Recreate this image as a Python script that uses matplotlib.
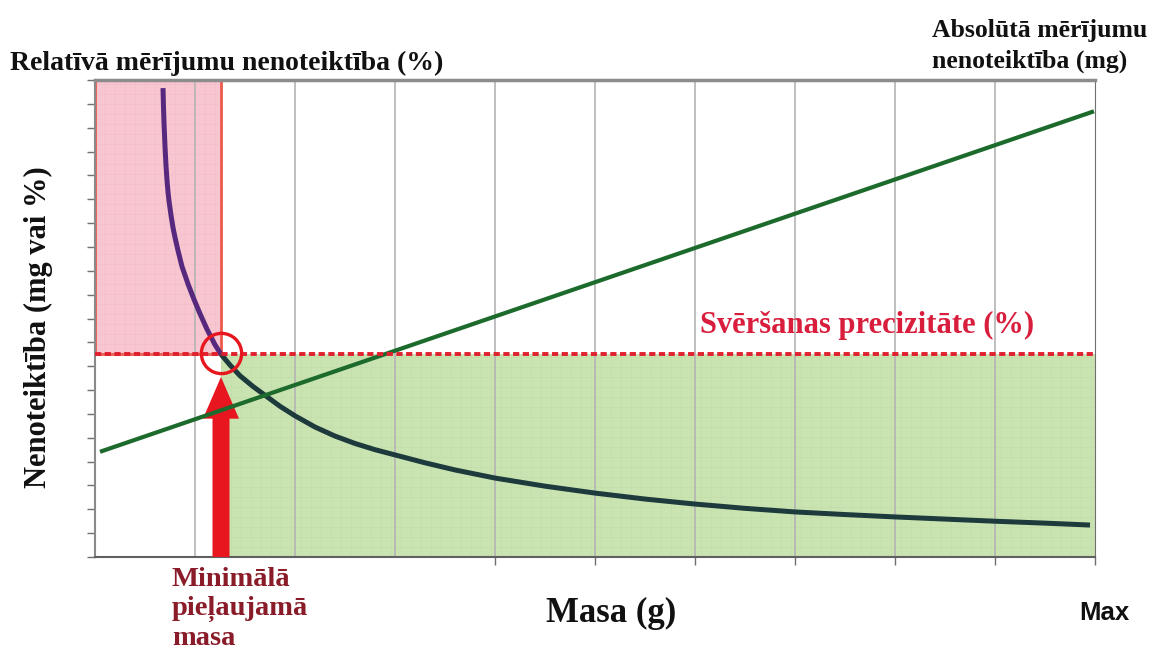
import numpy as np
import matplotlib
matplotlib.use("Agg")
import matplotlib.pyplot as plt
from matplotlib.patches import Rectangle
from matplotlib.collections import LineCollection

# Relative uncertainty curve (%)
curve_mass = [0.680, 0.685, 0.690, 0.700, 0.710, 0.720, 0.730, 0.740, 0.760, 0.780,
              0.800, 0.830, 0.870, 0.930, 0.990, 1.050, 1.120, 1.200, 1.260, 1.350,
              1.450, 1.580, 1.720, 1.850, 2.000, 2.200, 2.400, 2.600, 2.800, 3.000,
              3.300, 3.600, 4.000, 4.500, 5.000, 5.500, 6.000, 6.500, 7.000, 7.500,
              8.000, 8.500, 9.000, 9.500, 9.950]
curve_unc = [19.66, 18.86, 18.21, 17.21, 16.41, 15.79, 15.31, 14.93, 14.33, 13.81,
             13.40, 12.85, 12.18, 11.45, 10.80, 10.20, 9.55, 8.90, 8.50, 8.05,
             7.60, 7.15, 6.72, 6.32, 5.92, 5.45, 5.07, 4.76, 4.50, 4.28,
             3.95, 3.65, 3.31, 2.97, 2.68, 2.43, 2.22, 2.04, 1.89, 1.78,
             1.68, 1.59, 1.50, 1.42, 1.34]

# Absolute uncertainty (mg), straight line
line_mass = [0.07, 9.97]
line_unc = [4.44, 18.66]

# Weighing precision level and minimum mass
precision_level = 8.5
min_mass = 1.26
circle_y = 8.55
arrow_tip = 7.55

x_max, y_max = 10, 20

fig = plt.figure(figsize=(11.69, 6.52), dpi=100)
ax = fig.add_axes([95 / 1169, 95 / 652, 1000 / 1169, 477 / 652])
ax.set_xlim(0, x_max)
ax.set_ylim(0, y_max)


def shaded_zone(x0, y0, w, h, face, edge, line_col):
    """Filled rectangle with a faint fine grid inside (like the original)."""
    rect = Rectangle((x0, y0), w, h, facecolor=face, edgecolor=edge,
                     lw=2 if edge != "none" else 0, zorder=1)
    ax.add_patch(rect)
    segs = [[(gx, y0), (gx, y0 + h)] for gx in np.arange(x0, x0 + w, 0.1)]
    segs += [[(x0, gy), (x0 + w, gy)] for gy in np.arange(y0, y0 + h, 0.42)]
    lc = LineCollection(segs, colors=line_col, linewidths=0.5, alpha=0.25, zorder=1.5)
    lc.set_clip_path(rect)
    ax.add_collection(lc)


shaded_zone(0, precision_level, min_mass, y_max - precision_level,
            "#f7c6d1", "#ee5a4a", "#e7a4b2")
shaded_zone(min_mass, 0, x_max - min_mass, precision_level,
            "#c9e3b1", "none", "#aecd96")

# vertical grid lines
for gx in range(1, x_max):
    ax.axvline(gx, color="#b4b4b4", lw=1.2, zorder=2)

# arrow up to the minimum mass point
ax.arrow(min_mass, 0, 0, arrow_tip, width=0.17, head_width=0.36, head_length=1.75,
         length_includes_head=True, color="#e8161e", lw=0, zorder=3)

# curves
split = curve_mass.index(min_mass) + 1
ax.plot(curve_mass[:split], curve_unc[:split], color="#57297e", lw=3.6,
        solid_capstyle="butt", solid_joinstyle="round", zorder=5)
ax.plot(curve_mass[split - 1:], curve_unc[split - 1:], color="#1d3a3c", lw=3.6,
        solid_capstyle="butt", solid_joinstyle="round", zorder=5)
ax.plot(line_mass, line_unc, color="#1c6a2c", lw=3, zorder=6)

# precision line and circle marker
ax.plot([0, x_max], [precision_level, precision_level], color="#e0202e", lw=2.8,
        dashes=(1.6, 0.9), zorder=7)
ax.plot([min_mass], [circle_y], marker="o", ms=29, mfc="none", mec="#e8161e", mew=2.4,
        zorder=8)

# axes look
ax.set_xticks(range(4, x_max + 1))
ax.set_yticks(range(0, y_max + 1))
ax.tick_params(axis="both", direction="out", length=6, width=1, colors="#707070",
               labelbottom=False, labelleft=False)
ax.spines["left"].set_color("#8a8a8a")
ax.spines["bottom"].set_color("#606060")
ax.spines["right"].set_color("#707070")
ax.spines["top"].set_color("#8c8c8c")
ax.spines["top"].set_linewidth(2.5)
ax.spines["left"].set_linewidth(1.5)
ax.spines["bottom"].set_linewidth(1.5)

serif = "Liberation Serif"
W, H = 1169, 652


def ftext(x, y, s, **kw):
    fig.text(x / W, 1 - y / H, s, family=serif, weight="bold", **kw)


ftext(10, 70, "Relatīvā mērījumu nenoteiktība (%)", fontsize=20, color="#111111")
ftext(932, 68, "Absolūtā mērījumu\nnenoteiktība (mg)", fontsize=18.5, color="#111111",
      linespacing=1.45)
ftext(38, 327, "Nenoteiktība (mg vai %)", fontsize=22, rotation=90, ha="center",
      va="center", color="#111111")
ftext(700, 333, "Svēršanas precizitāte (%)", fontsize=22, color="#d81e3c")
ftext(172, 645, "Minimālā\npieļaujamā\nmasa", fontsize=20.5, color="#8a1c2a",
      linespacing=1.2)
ftext(611, 622, "Masa (g)", fontsize=25, ha="center", color="#111111")
fig.text(1104 / W, 1 - 620 / H, "Max", family="Liberation Sans", weight="bold",
         fontsize=18.5, ha="center", color="#111111")

fig.savefig("out.png", dpi=100)
